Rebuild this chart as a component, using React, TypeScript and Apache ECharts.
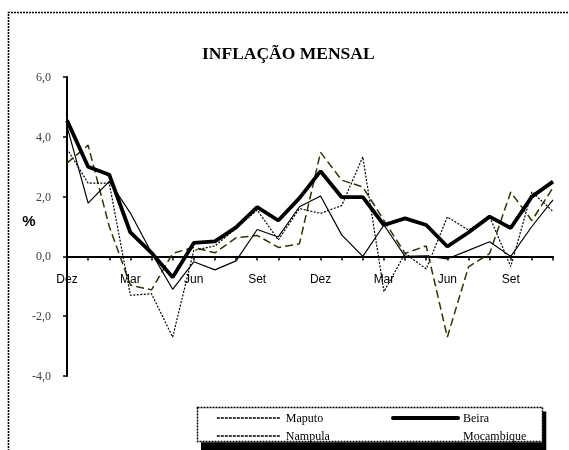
import React, { useEffect, useRef } from "react";
import * as echarts from "echarts";

const months = [
  "Dez", "Jan", "Fev", "Mar", "Abr", "Mai", "Jun", "Jul", "Ago", "Set", "Out", "Nov",
  "Dez", "Jan", "Fev", "Mar", "Abr", "Mai", "Jun", "Jul", "Ago", "Set", "Out", "Nov",
];

const maputo = [3.6, 2.45, 2.45, -1.3, -1.25, -2.7, 0.2, 0.35, 0.94, 1.55, 0.55, 1.6,
  1.44, 1.7, 3.33, -1.18, 0.1, -0.42, 1.32, 0.88, 1.33, -0.34, 2.16, 1.5];
const nampula = [4.35, 1.78, 2.51, 1.45, 0.12, -1.1, -0.18, -0.45, -0.15, 0.9, 0.65, 1.66,
  2.02, 0.72, 0.0, 1.05, 0.0, 0.02, -0.08, 0.2, 0.49, 0.0, 1.0, 1.89];
const beira = [4.55, 3.0, 2.73, 0.8, 0.12, -0.7, 0.45, 0.5, 0.97, 1.65, 1.2, 1.95,
  2.85, 1.98, 1.98, 1.05, 1.27, 1.05, 0.33, 0.8, 1.33, 0.95, 2.0, 2.5];
const mocambique = [3.12, 3.72, 1.0, -0.96, -1.12, 0.1, 0.3, 0.12, 0.62, 0.7, 0.3, 0.42,
  3.48, 2.55, 2.32, 1.2, 0.1, 0.35, -2.7, -0.35, 0.1, 2.15, 1.2, 2.3];

const yTicks = { min: -4, max: 6, interval: 2 };

const GRID_TOP = 77;
const GRID_BOTTOM = 74;
const CHART_H = 450;

export default function App() {
  const ref = useRef<HTMLDivElement>(null);
  useEffect(() => {
    if (!ref.current) return;
    const chart = echarts.init(ref.current, undefined, { renderer: "svg" });
    const serif = "'Liberation Serif', 'Times New Roman', serif";
    const sans = "'Liberation Sans', Arial, sans-serif";
    const hideSym = { opacity: 0 };
    const gridH = CHART_H - GRID_TOP - GRID_BOTTOM;
    const zeroOffset = -gridH * (0 - yTicks.min) / (yTicks.max - yTicks.min);
    chart.setOption({
      animation: false,
      title: {
        text: "INFLAÇÃO MENSAL",
        left: 202,
        top: 44,
        padding: 0,
        textStyle: { fontFamily: serif, fontWeight: "bold", fontSize: 17.5, color: "#000" },
      },
      grid: { left: 67, right: 16, top: GRID_TOP, bottom: GRID_BOTTOM },
      xAxis: {
        type: "category",
        data: months,
        boundaryGap: false,
        position: "bottom",
        offset: zeroOffset,
        axisLine: { show: true, onZero: false, lineStyle: { color: "#000", width: 2 } },
        axisTick: { show: true, interval: 0, length: 4, lineStyle: { color: "#000", width: 1.5 } },
        axisLabel: { show: true, interval: 2, margin: 17, fontFamily: sans, fontSize: 12, color: "#000" },
        splitLine: { show: false },
      },
      yAxis: {
        type: "value",
        min: yTicks.min,
        max: yTicks.max,
        interval: yTicks.interval,
        position: "left",
        axisLine: { show: true, onZero: false, lineStyle: { color: "#000", width: 2 } },
        axisTick: { show: true, length: 4, lineStyle: { color: "#000", width: 1.5 } },
        axisLabel: {
          margin: 16,
          fontFamily: serif,
          fontSize: 12,
          color: "#404040",
          formatter: (v: number) => v.toFixed(1).replace(".", ","),
        },
        splitLine: { show: false },
      },
      legend: [
        {
          orient: "vertical",
          left: 216,
          top: 412,
          padding: 0,
          itemWidth: 64,
          itemHeight: 12,
          itemGap: 6,
          selectedMode: false,
          textStyle: { fontFamily: serif, fontSize: 12, color: "#000" },
          data: [
            { name: "Maputo", itemStyle: hideSym, lineStyle: { type: [3, 1], width: 1.6, color: "#000" } },
            { name: "Nampula", itemStyle: hideSym, lineStyle: { type: [3, 1], width: 1.6, color: "#000" } },
          ],
        },
        {
          orient: "vertical",
          left: 391,
          top: 412,
          padding: 0,
          itemWidth: 65,
          itemHeight: 12,
          itemGap: 6,
          selectedMode: false,
          textStyle: { fontFamily: serif, fontSize: 12, color: "#000" },
          data: [
            { name: "Beira", itemStyle: hideSym, lineStyle: { width: 4, color: "#000", cap: "round" } },
            { name: "Mocambique", lineStyle: { opacity: 0 }, itemStyle: hideSym },
          ],
        },
      ],
      graphic: [
        {
          type: "polyline",
          shape: { points: [[8.5, 460], [8.5, 12.5], [580, 12.5]] },
          style: { fill: null, stroke: "#000", lineWidth: 1.6, lineDash: [2, 1] },
        },
        {
          type: "text",
          x: 29,
          y: 220,
          style: {
            text: "%",
            font: "bold 15px 'Liberation Sans', Arial, sans-serif",
            fill: "#000",
            textAlign: "center",
            textVerticalAlign: "middle",
          },
        },
        {
          type: "rect",
          shape: { x: 197.5, y: 407.5, width: 345, height: 34 },
          style: { fill: "#fff", stroke: "#000", lineWidth: 1.5, lineDash: [2, 1] },
        },
        {
          type: "rect",
          z: 50,
          shape: { x: 201, y: 442.3, width: 345, height: 12 },
          style: { fill: "#000" },
        },
        {
          type: "rect",
          z: 50,
          shape: { x: 542.3, y: 411.5, width: 4, height: 40 },
          style: { fill: "#000" },
        },
      ],
      series: [
        {
          name: "Mocambique",
          type: "line",
          data: mocambique,
          showSymbol: false,
          symbol: "none",
          lineStyle: { color: "#333300", width: 1.5, type: [8, 4] },
          itemStyle: { color: "#333300" },
          z: 2,
        },
        {
          name: "Nampula",
          type: "line",
          data: nampula,
          showSymbol: false,
          symbol: "none",
          lineStyle: { color: "#000", width: 1.2 },
          itemStyle: { color: "#000" },
          z: 3,
        },
        {
          name: "Maputo",
          type: "line",
          data: maputo,
          showSymbol: false,
          symbol: "none",
          lineStyle: { color: "#000", width: 1.2, type: [2, 1.5] },
          itemStyle: { color: "#000" },
          z: 4,
        },
        {
          name: "Beira",
          type: "line",
          data: beira,
          showSymbol: false,
          symbol: "none",
          lineStyle: { color: "#000", width: 3.8 },
          itemStyle: { color: "#000" },
          z: 5,
        },
      ],
    });
    return () => chart.dispose();
  }, []);
  return (
    <div
      ref={ref}
      style={{ position: "fixed", left: 0, top: 0, width: 569, height: 450 }}
    />
  );
}
